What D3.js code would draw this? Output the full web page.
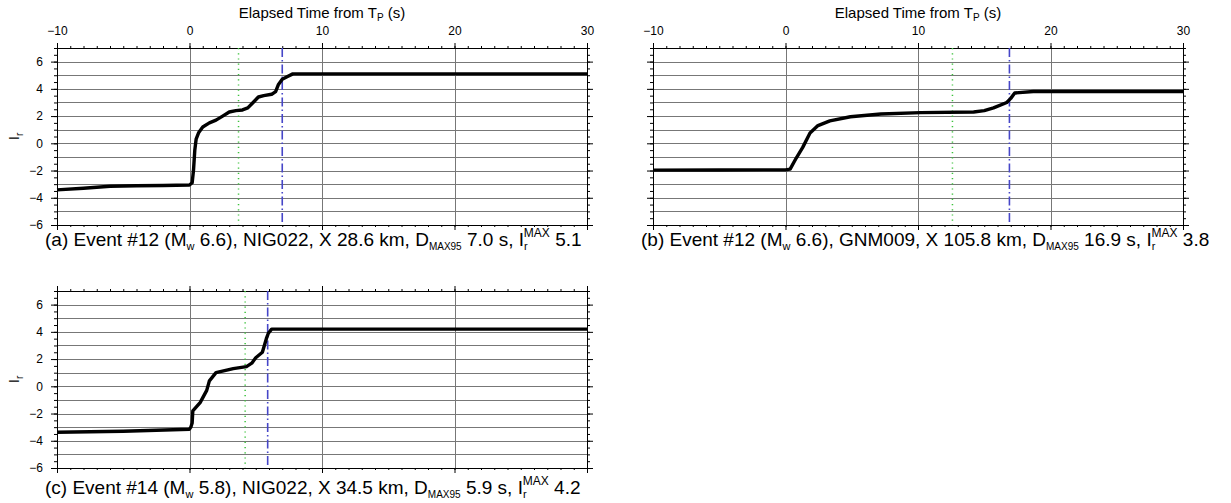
<!DOCTYPE html>
<html>
<head>
<meta charset="utf-8">
<script src="https://cdn.jsdelivr.net/npm/d3@7"></script>
<style>
  body { margin: 0; background: #fff; }
  svg { display: block; }
  text { font-family: "Liberation Sans", Arial, Helvetica, sans-serif; fill: #000; }
</style>
</head>
<body>
<svg id="chart" width="1231" height="503"></svg>
<script>
// Axis ticks
const xMajorTicks = [-10, 0, 10, 20, 30];
const yMajorTicks = [-6, -4, -2, 0, 2, 4, 6];

// Ir time histories (time from P arrival in s, Ir value)
const timeA = [-10, -8, -6, -4, -2, 0, 0.2, 0.3, 0.4, 0.5, 0.7, 1.0, 1.5, 2.0, 2.5, 3.0, 3.5, 4.0, 4.4, 4.8, 5.2, 5.6, 6.2, 6.5, 6.7, 7.0, 7.4, 7.8, 30];
const irA   = [-3.42, -3.3, -3.15, -3.12, -3.1, -3.06, -2.9, -2.0, -0.5, 0.3, 0.8, 1.2, 1.5, 1.7, 2.0, 2.3, 2.4, 2.45, 2.6, 3.0, 3.4, 3.5, 3.6, 3.8, 4.3, 4.7, 4.9, 5.1, 5.1];

const timeB = [-10, -5, 0, 0.35, 0.8, 1.3, 1.85, 2.45, 3.35, 4.9, 7.2, 10.2, 14.2, 15.0, 15.7, 16.7, 17.0, 17.3, 18.7, 30];
const irB   = [-1.97, -1.96, -1.95, -1.9, -1.1, -0.3, 0.75, 1.3, 1.65, 1.95, 2.15, 2.25, 2.3, 2.4, 2.6, 3.0, 3.3, 3.7, 3.8, 3.8];

const timeC = [-10, -5, 0, 0.1, 0.2, 0.25, 0.8, 1.3, 1.5, 2.0, 3.3, 4.3, 4.7, 5.0, 5.5, 5.8, 5.95, 6.2, 30];
const irC   = [-3.37, -3.3, -3.15, -3.0, -2.7, -1.8, -1.2, -0.3, 0.4, 1.0, 1.3, 1.45, 1.7, 2.1, 2.5, 3.5, 3.9, 4.2, 4.2];

// Reference times (s): green dotted and blue dash-dot markers
const pickTimes = [3.7, 12.6, 4.2];
const dmaxTimes = [7.0, 16.9, 5.9];

// Caption fields
const panelTags = ["(a)", "(b)", "(c)"];
const eventIds  = ["#12", "#12", "#14"];
const magnitudes = ["6.6", "6.6", "5.8"];
const stations  = ["NIG022", "GNM009", "NIG022"];
const distances = ["28.6", "105.8", "34.5"];
const dmaxValues = ["7.0", "16.9", "5.9"];
const irMaxValues = ["5.1", "3.8", "4.2"];

const W = 530, H = 177;
const svg = d3.select("#chart");

const panels = [
  { i: 0, left: 57,  top: 48,  t: timeA, ir: irA, xLabels: true,  yLabels: true,  capGap: 21 },
  { i: 1, left: 653, top: 48,  t: timeB, ir: irB, xLabels: true,  yLabels: false, capGap: 21 },
  { i: 2, left: 57,  top: 291, t: timeC, ir: irC, xLabels: false, yLabels: true,  capGap: 26 }
];

const x = d3.scaleLinear().domain([-10, 30]).range([0, W]);
const y = d3.scaleLinear().domain([-6, 7]).range([H, 0]);
const fmt = d3.format("d");

panels.forEach(p => {
  const g = svg.append("g").attr("transform", `translate(${p.left},${p.top})`);

  // grid
  g.append("g").selectAll("line").data(d3.range(-5, 7, 1)).join("line")
    .attr("x1", 0).attr("x2", W)
    .attr("y1", d => Math.round(y(d)) + 0.5).attr("y2", d => Math.round(y(d)) + 0.5)
    .attr("stroke", "#777").attr("stroke-width", 1);
  g.append("g").selectAll("line").data([0, 10, 20]).join("line")
    .attr("y1", 0).attr("y2", H)
    .attr("x1", d => Math.round(x(d)) + 0.5).attr("x2", d => Math.round(x(d)) + 0.5)
    .attr("stroke", "#777").attr("stroke-width", 1);

  // axes: major and minor ticks on all four sides
  const addAxis = (axis, tr) => {
    const a = g.append("g").attr("transform", tr).call(axis);
    a.select(".domain").remove();
    a.selectAll("line").attr("stroke", "#000");
    a.selectAll("text").attr("font-size", 12).attr("fill", "#000")
      .style("font-family", '"Liberation Sans", Arial, sans-serif');
    return a;
  };
  const minorX = d3.range(-10, 31, 1);
  const minorY = d3.range(-6, 7.01, 0.5);

  addAxis(d3.axisTop(x).tickValues(minorX).tickSize(2).tickFormat(""), "translate(0,0)");
  addAxis(d3.axisTop(x).tickValues(xMajorTicks).tickSize(5).tickPadding(8)
    .tickFormat(p.xLabels ? fmt : ""), "translate(0,0)");
  addAxis(d3.axisBottom(x).tickValues(minorX).tickSize(2).tickFormat(""), `translate(0,${H})`);
  addAxis(d3.axisBottom(x).tickValues(xMajorTicks).tickSize(5).tickFormat(""), `translate(0,${H})`);
  addAxis(d3.axisLeft(y).tickValues(minorY).tickSize(3).tickFormat(""), "translate(0,0)");
  addAxis(d3.axisLeft(y).tickValues(yMajorTicks).tickSize(6).tickPadding(8)
    .tickFormat(p.yLabels ? fmt : ""), "translate(0,0)");
  addAxis(d3.axisRight(y).tickValues(minorY).tickSize(3).tickFormat(""), `translate(${W},0)`);
  addAxis(d3.axisRight(y).tickValues(yMajorTicks).tickSize(6).tickFormat(""), `translate(${W},0)`);

  // frame
  g.append("rect").attr("x", 0.5).attr("y", 0.5).attr("width", W).attr("height", H)
    .attr("fill", "none").attr("stroke", "#000").attr("stroke-width", 1);

  // reference time markers
  g.append("line")
    .attr("x1", x(pickTimes[p.i])).attr("x2", x(pickTimes[p.i]))
    .attr("y1", 0).attr("y2", H)
    .attr("stroke", "#3dc23d").attr("stroke-width", 1.5)
    .attr("stroke-dasharray", "1.2,4");
  g.append("line")
    .attr("x1", x(dmaxTimes[p.i])).attr("x2", x(dmaxTimes[p.i]))
    .attr("y1", 0).attr("y2", H)
    .attr("stroke", "#4646c8").attr("stroke-width", 1.6)
    .attr("stroke-dasharray", "9,3,1.5,3");

  // Ir curve
  const line = d3.line().x(d => x(d[0])).y(d => y(d[1]));
  g.append("path")
    .datum(d3.zip(p.t, p.ir))
    .attr("d", line)
    .attr("fill", "none").attr("stroke", "#000").attr("stroke-width", 3.4)
    .attr("stroke-linejoin", "round").attr("stroke-linecap", "butt");

  // y label
  if (p.yLabels) {
    const yl = svg.append("text")
      .attr("transform", `translate(${p.left - 38},${p.top + H / 2}) rotate(-90)`)
      .attr("text-anchor", "middle").attr("font-size", 15);
    yl.append("tspan").text("I");
    yl.append("tspan").attr("font-size", 10).attr("dy", 4).text("r");
  }

  // x title
  if (p.xLabels) {
    const xt = svg.append("text")
      .attr("x", p.left + W / 2).attr("y", p.top - 30)
      .attr("text-anchor", "middle").attr("font-size", 15);
    xt.append("tspan").text("Elapsed Time from T");
    xt.append("tspan").attr("font-size", 10).attr("dy", 3).text("P");
    xt.append("tspan").attr("dy", -3).text(" (s)");
  }

  // caption
  const c = svg.append("text")
    .attr("x", p.left - 12).attr("y", p.top + H + p.capGap)
    .attr("font-size", 19);
  c.append("tspan").text(`${panelTags[p.i]} Event ${eventIds[p.i]} (M`);
  c.append("tspan").attr("font-size", 11).attr("dy", 4).text("w");
  c.append("tspan").attr("dy", -4).text(` ${magnitudes[p.i]}), ${stations[p.i]}, X ${distances[p.i]} km, D`);
  c.append("tspan").attr("font-size", 10).attr("dy", 4).text("MAX95");
  c.append("tspan").attr("dy", -4).text(` ${dmaxValues[p.i]} s, I`);
  c.append("tspan").attr("font-size", 11).attr("dy", 4).text("r");
  c.append("tspan").attr("font-size", 12).attr("dx", -3.8).attr("dy", -13).text("MAX");
  c.append("tspan").attr("dy", 9).text(` ${irMaxValues[p.i]}`);
});
</script>
</body>
</html>
